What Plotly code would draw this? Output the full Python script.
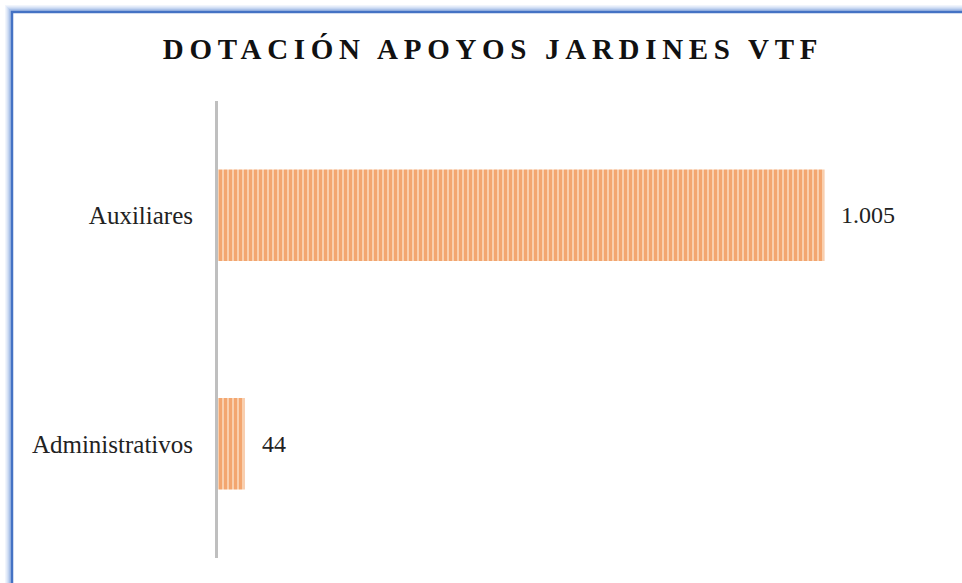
import plotly.graph_objects as go

categories = ["Administrativos", "Auxiliares"]
values = [44, 1005]
title_text = "DOTACIÓN APOYOS JARDINES VTF"

W, H = 962, 583
L, R, T, B = 218, 20, 101, 25
pw, ph = W - L - R, H - T - B

def px_x(p):
    return (p - L) / pw

def px_y(p):
    return (H - B - p) / ph

fig = go.Figure()
fig.add_trace(go.Bar(
    y=categories, x=values, orientation="h", width=0.4,
    marker=dict(
        color="#F4A770",
        line=dict(width=0),
        pattern=dict(shape="|", fgcolor="#ED7D31", bgcolor="#F9CFAE",
                     size=5, solidity=0.6),
    ),
    hoverinfo="skip",
))

annotations = []
for c, v in zip(categories, values):
    annotations.append(dict(
        x=v, y=c, xref="x", yref="y", text=f"{v:,}".replace(",", "."),
        showarrow=False, xanchor="left", xshift=15,
        font=dict(family="Liberation Serif", size=24, color="#222222"),
    ))

shapes = []
# glow around border
glow = ["#F1F5FC", "#E4ECF9", "#D5E1F5", "#C3D4F0", "#ACC3E9"]
for i, col in enumerate(glow):
    off = 6 - i
    shapes.append(dict(type="rect", xref="paper", yref="paper",
                       x0=px_x(12 - off), x1=px_x(990), y0=px_y(12 - off), y1=px_y(600),
                       line=dict(color=col, width=2), layer="below"))
shapes.append(dict(type="rect", xref="paper", yref="paper",
                   x0=px_x(12), x1=px_x(990), y0=px_y(12), y1=px_y(600),
                   line=dict(color="#4472C4", width=2.5), layer="below"))

fig.update_layout(
    width=W, height=H,
    margin=dict(l=L, r=R, t=T, b=B),
    paper_bgcolor="white", plot_bgcolor="white",
    showlegend=False,
    separators=",.",
    title=dict(text=title_text, x=(493 - L) / pw, xref="paper", xanchor="center",
               y=(H - 49) / H, yanchor="middle",
               font=dict(family="Liberation Serif", size=29, color="#111111", weight="bold")),
    xaxis=dict(range=[0, 1200], showgrid=False, zeroline=False, showticklabels=False,
               showline=False, fixedrange=True),
    yaxis=dict(range=[-0.5, 1.5], showgrid=False, zeroline=False,
               showline=True, linecolor="#BFBFBF", linewidth=3,
               ticks="", ticklabelstandoff=17,
               tickfont=dict(family="Liberation Serif", size=25, color="#222222")),
    annotations=annotations,
    shapes=shapes,
)

fig.write_html("out.html", config={"displayModeBar": False},
               post_script="document.body.style.margin='0';"
                           "var t=document.querySelector('.gtitle'); if(t){t.style.letterSpacing='5.7px';}")
